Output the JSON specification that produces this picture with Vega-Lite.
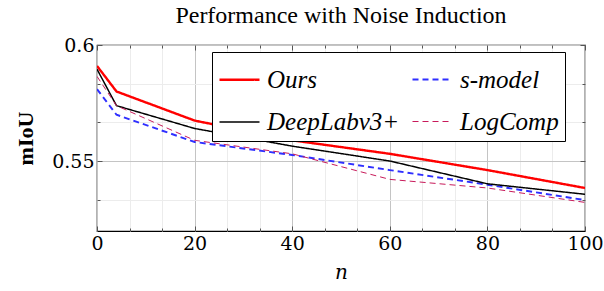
{
  "$schema": "https://vega.github.io/schema/vega-lite/v6.json",
  "width": 488,
  "height": 186,
  "autosize": {"type": "none"},
  "padding": {"left": 97, "top": 45, "right": 19, "bottom": 60},
  "background": "white",
  "title": {
    "text": "Performance with Noise Induction",
    "font": "Liberation Serif",
    "fontSize": 24,
    "fontWeight": "normal",
    "color": "black",
    "anchor": "middle",
    "offset": 8
  },
  "config": {
    "view": {"stroke": "black", "strokeWidth": 1.2},
    "axis": {"domain": false},
    "legend": {
      "labelFont": "Liberation Serif",
      "labelFontStyle": "italic",
      "labelFontSize": 25,
      "labelColor": "black"
    }
  },
  "resolve": {"axis": {"x": "independent", "y": "independent"}},
  "data": {
    "values": [
      {"n": 0, "model": "Ours", "miou": 0.591},
      {"n": 4, "model": "Ours", "miou": 0.580},
      {"n": 20, "model": "Ours", "miou": 0.5675},
      {"n": 40, "model": "Ours", "miou": 0.559},
      {"n": 60, "model": "Ours", "miou": 0.5532},
      {"n": 80, "model": "Ours", "miou": 0.5462},
      {"n": 100, "model": "Ours", "miou": 0.5385},
      {"n": 0, "model": "s-model", "miou": 0.581},
      {"n": 4, "model": "s-model", "miou": 0.570},
      {"n": 20, "model": "s-model", "miou": 0.5583},
      {"n": 40, "model": "s-model", "miou": 0.5527},
      {"n": 60, "model": "s-model", "miou": 0.5462},
      {"n": 80, "model": "s-model", "miou": 0.5399},
      {"n": 100, "model": "s-model", "miou": 0.5333},
      {"n": 0, "model": "DeepLabv3+", "miou": 0.5896},
      {"n": 4, "model": "DeepLabv3+", "miou": 0.5739},
      {"n": 20, "model": "DeepLabv3+", "miou": 0.5641},
      {"n": 40, "model": "DeepLabv3+", "miou": 0.5565},
      {"n": 60, "model": "DeepLabv3+", "miou": 0.5501},
      {"n": 80, "model": "DeepLabv3+", "miou": 0.5403},
      {"n": 100, "model": "DeepLabv3+", "miou": 0.5358},
      {"n": 0, "model": "LogComp", "miou": 0.5865},
      {"n": 4, "model": "LogComp", "miou": 0.5739},
      {"n": 20, "model": "LogComp", "miou": 0.559},
      {"n": 40, "model": "LogComp", "miou": 0.5532},
      {"n": 60, "model": "LogComp", "miou": 0.5422},
      {"n": 80, "model": "LogComp", "miou": 0.5385},
      {"n": 100, "model": "LogComp", "miou": 0.5323}
    ]
  },
  "layer": [
    {
      "mark": {"type": "line", "clip": true},
      "encoding": {
        "x": {
          "field": "n",
          "type": "quantitative",
          "scale": {"domain": [0, 100], "nice": false, "zero": false},
          "axis": {
            "orient": "bottom",
            "values": [0, 6.6667, 13.3333, 20, 26.6667, 33.3333, 40, 46.6667, 53.3333, 60, 66.6667, 73.3333, 80, 86.6667, 93.3333, 100],
            "labelExpr": "datum.value % 20 === 0 ? format(datum.value, 'd') : ''",
            "labelFont": "DejaVu Serif",
            "labelFontSize": 19,
            "labelColor": "black",
            "labelPadding": 8,
            "labelFlush": false,
            "labelOverlap": false,
            "gridColor": {"condition": {"test": "datum.value % 20 === 0", "value": "#c4c4c4"}, "value": "#ececec"},
            "gridWidth": 1,
            "ticks": true,
            "tickColor": "#555555",
            "tickSize": {"condition": {"test": "datum.value % 20 === 0", "value": -5}, "value": -3},
            "title": "n",
            "titleFont": "DejaVu Serif",
            "titleFontStyle": "italic",
            "titleFontWeight": "normal",
            "titleFontSize": 20,
            "titleColor": "black",
            "titlePadding": 7
          }
        },
        "y": {
          "field": "miou",
          "type": "quantitative",
          "scale": {"domain": [0.52, 0.6], "nice": false, "zero": false},
          "axis": {
            "orient": "left",
            "values": [0.53333, 0.55, 0.56667, 0.58333, 0.6],
            "labelExpr": "(abs(datum.value - 0.55) < 0.001 || abs(datum.value - 0.6) < 0.001) ? format(datum.value, '~g') : ''",
            "labelFont": "DejaVu Serif",
            "labelFontSize": 19,
            "labelColor": "black",
            "labelPadding": 8,
            "labelFlush": false,
            "labelOverlap": false,
            "gridColor": {"condition": {"test": "abs(datum.value - 0.55) < 0.001 || abs(datum.value - 0.6) < 0.001", "value": "#c4c4c4"}, "value": "#ececec"},
            "ticks": true,
            "tickColor": "#555555",
            "tickSize": {"condition": {"test": "abs(datum.value - 0.55) < 0.001 || abs(datum.value - 0.6) < 0.001", "value": -5}, "value": -3},
            "title": "mIoU",
            "titleFont": "Liberation Serif",
            "titleFontWeight": "bold",
            "titleFontSize": 22,
            "titleColor": "black",
            "titlePadding": 14
          }
        },
        "color": {
          "field": "model",
          "type": "nominal",
          "scale": {
            "domain": ["Ours", "s-model", "DeepLabv3+", "LogComp"],
            "range": ["#ff0000", "#2f2fff", "#000000", "#c81a5a"]
          },
          "legend": {
            "title": null,
            "orient": "none",
            "legendX": 115,
            "legendY": 7,
            "columns": 2,
            "direction": "horizontal",
            "symbolType": "stroke",
            "symbolSize": 1600,
            "labelLimit": 250,
            "labelOffset": 6,
            "strokeColor": "black",
            "fillColor": "white",
            "padding": 6,
            "rowPadding": 8,
            "columnPadding": 8
          }
        },
        "strokeDash": {
          "field": "model",
          "type": "nominal",
          "scale": {
            "domain": ["Ours", "s-model", "DeepLabv3+", "LogComp"],
            "range": [[1, 0], [6, 4], [1, 0], [6, 4]]
          }
        },
        "strokeWidth": {
          "field": "model",
          "type": "nominal",
          "scale": {
            "domain": ["Ours", "s-model", "DeepLabv3+", "LogComp"],
            "range": [2.4, 1, 1, 1]
          }
        }
      }
    },
    {
      "mark": {"type": "line", "opacity": 0},
      "encoding": {
        "x": {
          "field": "n",
          "type": "quantitative",
          "axis": {
            "orient": "top",
            "values": [0, 6.6667, 13.3333, 20, 26.6667, 33.3333, 40, 46.6667, 53.3333, 60, 66.6667, 73.3333, 80, 86.6667, 93.3333, 100],
            "labels": false,
            "grid": false,
            "title": null,
            "tickColor": "#555555",
            "tickSize": {"condition": {"test": "datum.value % 20 === 0", "value": -5}, "value": -3}
          }
        },
        "y": {
          "field": "miou",
          "type": "quantitative",
          "axis": {
            "orient": "right",
            "values": [0.53333, 0.55, 0.56667, 0.58333, 0.6],
            "labels": false,
            "grid": false,
            "title": null,
            "tickColor": "#555555",
            "tickSize": {"condition": {"test": "abs(datum.value - 0.55) < 0.001 || abs(datum.value - 0.6) < 0.001", "value": -5}, "value": -3}
          }
        },
        "detail": {"field": "model", "type": "nominal"}
      }
    }
  ]
}
